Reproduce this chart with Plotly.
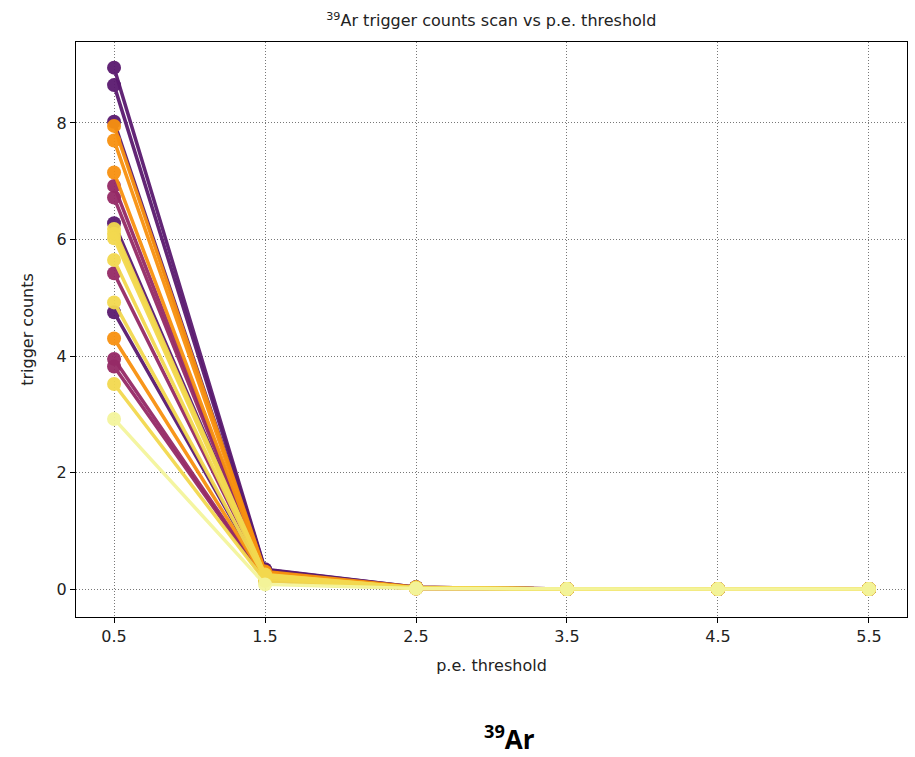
import plotly.graph_objects as go

thresholds = [0.5, 1.5, 2.5, 3.5, 4.5, 5.5]
x_tick_labels = ["0.5", "1.5", "2.5", "3.5", "4.5", "5.5"]

# trigger counts per series at each threshold
counts_at_05 = [8.95, 8.65, 8.02, 6.28, 4.75,
                6.92, 6.72, 5.42, 3.95, 3.82,
                7.95, 7.70, 7.15, 4.30,
                6.18, 6.10, 6.02, 5.65, 4.92, 3.52,
                2.92]
counts_at_15 = [0.34, 0.33, 0.30, 0.26, 0.20,
                0.27, 0.26, 0.22, 0.16, 0.15,
                0.30, 0.29, 0.27, 0.18,
                0.25, 0.24, 0.23, 0.21, 0.19, 0.14,
                0.08]
counts_at_25 = [0.03, 0.03, 0.02, 0.02, 0.02,
                0.02, 0.02, 0.02, 0.01, 0.01,
                0.03, 0.02, 0.02, 0.01,
                0.02, 0.02, 0.02, 0.02, 0.01, 0.01,
                0.01]
counts_at_35 = [0.0] * 21
counts_at_45 = [0.0] * 21
counts_at_55 = [0.0] * 21

series_colors = (["#5a1a6f"] * 5 + ["#952a66"] * 5 + ["#f8910f"] * 4 +
                 ["#f3d94f"] * 6 + ["#f4f59c"])

fig = go.Figure()
for i in range(len(counts_at_05)):
    ys = [counts_at_05[i], counts_at_15[i], counts_at_25[i],
          counts_at_35[i], counts_at_45[i], counts_at_55[i]]
    fig.add_trace(go.Scatter(
        x=thresholds, y=ys, mode="lines+markers",
        line=dict(color=series_colors[i], width=3.5),
        marker=dict(color=series_colors[i], size=14, line=dict(width=0)),
        opacity=0.95, showlegend=False, hoverinfo="skip"))

axis_common = dict(
    showline=True, linecolor="black", linewidth=1.2, mirror=True,
    ticks="outside", ticklen=5, tickwidth=1, tickcolor="black",
    showgrid=True, gridcolor="#777777", griddash="1px,2px", gridwidth=1,
    zeroline=False, tickfont=dict(family="DejaVu Sans", size=16, color="#222"),
)

fig.update_layout(
    width=915, height=757,
    margin=dict(l=76, r=8, t=42, b=140),
    paper_bgcolor="white", plot_bgcolor="white",
    title=dict(text="<sup>39</sup>Ar trigger counts scan vs p.e. threshold",
               x=0.537, xanchor="center", y=0.98, yanchor="top",
               font=dict(family="DejaVu Sans", size=16, color="#222")),
    xaxis=dict(range=[0.248, 5.752], tickvals=thresholds, ticktext=x_tick_labels,
               title=dict(text="p.e. threshold", standoff=14,
                          font=dict(family="DejaVu Sans", size=16, color="#222")),
               **axis_common),
    yaxis=dict(range=[-0.48, 9.39], tickvals=[0, 2, 4, 6, 8],
               title=dict(text="trigger counts", standoff=18,
                          font=dict(family="DejaVu Sans", size=16, color="#222")),
               **axis_common),
    annotations=[dict(text="<b><sup>39</sup>Ar</b>", xref="paper", yref="paper",
                      x=0.522, y=-0.21, xanchor="center", yanchor="middle",
                      showarrow=False,
                      font=dict(family="Open Sans", size=26, color="black"))],
)

fig.write_html("out.html")
